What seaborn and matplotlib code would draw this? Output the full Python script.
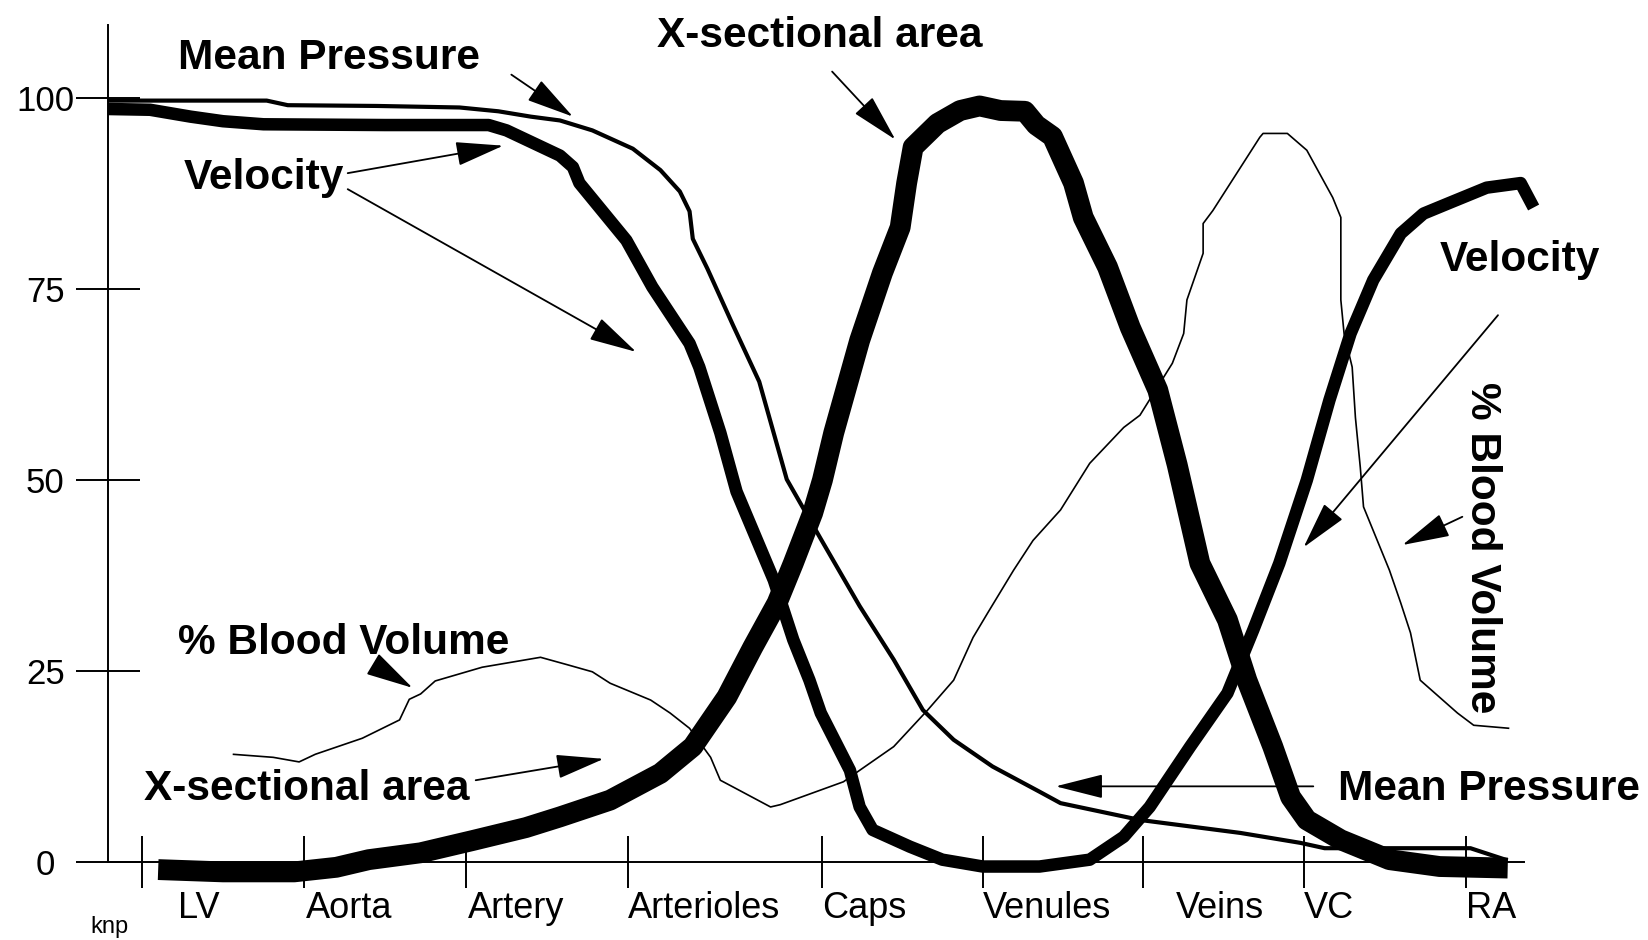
import matplotlib
matplotlib.use("Agg")
import matplotlib.pyplot as plt
import seaborn as sns

# Segment positions along the circulation (x) and % of max (y)
tick_pos = [0, 1, 2, 3, 4.2, 5.19, 6.18, 7.17, 8.17]
label_pos = [0.22, 1.01, 2.01, 3.0, 4.2, 5.19, 6.38, 7.17, 8.17]
segments = ['LV', 'Aorta', 'Artery', 'Arterioles', 'Caps', 'Venules', 'Veins', 'VC', 'RA']
y_ticks = [0, 25, 50, 75, 100]

pressure_x = [-0.21, 0.77, 0.9, 1.45, 1.96, 2.2, 2.40, 2.58, 2.78, 3.03, 3.20, 3.32, 3.38, 3.40,
              3.49, 3.65, 3.81, 3.98, 4.19, 4.43, 4.64, 4.82, 5.01, 5.25, 5.54, 5.67, 6.16, 6.78,
              7.15, 7.3, 8.2, 8.43]
pressure_y = [99.7, 99.7, 99.1, 99.0, 98.8, 98.3, 97.6, 97.1, 95.8, 93.4, 90.6, 87.8, 85.2, 81.6,
              77.7, 70.2, 62.9, 50.1, 42.3, 33.5, 26.5, 19.9, 16.0, 12.5, 9.2, 7.7, 5.5, 3.8,
              2.5, 1.8, 1.8, 0.2]

velocity_x = [-0.21, 0.05, 0.3, 0.5, 0.75, 1.5, 2.14, 2.25, 2.40, 2.58, 2.66, 2.70, 2.99, 3.15,
              3.38, 3.44, 3.57, 3.67, 3.90, 4.02, 4.12, 4.19, 4.37, 4.43, 4.51, 4.74, 4.94, 5.19,
              5.54, 5.85, 6.06, 6.22, 6.47, 6.70, 6.86, 7.02, 7.19, 7.33, 7.46, 7.60, 7.77, 7.91,
              8.07, 8.30, 8.51, 8.59]
velocity_y = [98.6, 98.5, 97.6, 97.0, 96.6, 96.5, 96.5, 95.8, 94.3, 92.5, 91.0, 88.9, 81.4, 75.3,
              67.9, 64.8, 56.2, 48.5, 36.9, 29.1, 23.8, 19.5, 12.0, 7.2, 4.2, 2.0, 0.3, -0.6,
              -0.6, 0.3, 3.3, 7.2, 15.1, 22.1, 30.4, 39.1, 50.0, 60.5, 69.2, 76.2, 82.3, 84.9,
              86.3, 88.3, 88.9, 85.7]

area_x = [0.1, 0.5, 0.94, 1.2, 1.4, 1.72, 2.04, 2.37, 2.58, 2.89, 3.20, 3.40, 3.61, 3.77, 3.92,
          4.02, 4.14, 4.20, 4.27, 4.43, 4.57, 4.68, 4.72, 4.76, 4.91, 5.05, 5.17, 5.30, 5.45,
          5.52, 5.62, 5.75, 5.81, 5.96, 6.10, 6.27, 6.39, 6.53, 6.70, 6.82, 6.98, 7.09, 7.19,
          7.40, 7.70, 8.01, 8.43]
area_y = [-1.0, -1.3, -1.3, -0.7, 0.3, 1.2, 2.8, 4.5, 5.9, 8.1, 11.6, 15.1, 21.6, 28.1, 33.9,
          39.1, 45.7, 50.0, 56.2, 68.3, 77.1, 83.1, 88.9, 93.6, 96.7, 98.4, 99.0, 98.4, 98.3,
          96.5, 95.0, 88.9, 84.4, 77.9, 70.0, 61.8, 52.0, 39.1, 31.7, 23.8, 15.1, 8.5, 5.5,
          2.9, 0.3, -0.6, -0.8]

volume_x = [0.56, 0.81, 0.97, 1.07, 1.36, 1.59, 1.65, 1.72, 1.81, 2.10, 2.46, 2.63, 2.78, 2.89,
            3.14, 3.26, 3.38, 3.51, 3.57, 3.65, 3.88, 3.94, 4.33, 4.43, 4.64, 4.85, 5.01, 5.13,
            5.22, 5.38, 5.50, 5.67, 5.85, 6.06, 6.16, 6.36, 6.43, 6.45, 6.55, 6.55, 6.61, 6.90,
            6.92, 7.07, 7.19, 7.35, 7.40, 7.40, 7.42, 7.47, 7.49, 7.52, 7.54, 7.70, 7.77, 7.83,
            7.89, 8.12, 8.22, 8.44]
volume_y = [14.1, 13.7, 13.1, 14.1, 16.2, 18.6, 21.3, 22.0, 23.7, 25.5, 26.8, 25.8, 24.9, 23.4,
            21.2, 19.5, 17.5, 13.7, 10.7, 9.8, 7.2, 7.5, 10.5, 12.0, 15.1, 19.9, 23.8, 29.4,
            32.6, 38.2, 42.1, 46.1, 52.2, 56.9, 58.5, 65.3, 69.2, 73.6, 79.7, 83.6, 85.3, 94.9,
            95.4, 95.4, 93.2, 87.0, 84.4, 73.6, 69.2, 64.8, 58.2, 51.7, 46.5, 38.2, 33.9, 30.0,
            23.8, 19.5, 17.9, 17.5]

sns.set_style("white")
plt.rcParams['font.family'] = ['Liberation Sans', 'DejaVu Sans']

fig = plt.figure(figsize=(16.48, 9.4), dpi=100)
ax = fig.add_axes([0.0655, 0.0546, 0.8592, 0.9188])

# curves
sns.lineplot(x=volume_x, y=volume_y, sort=False, estimator=None, color='black', linewidth=1.2, ax=ax)
sns.lineplot(x=pressure_x, y=pressure_y, sort=False, estimator=None, color='black', linewidth=3, ax=ax)
sns.lineplot(x=velocity_x, y=velocity_y, sort=False, estimator=None, color='black', linewidth=9, ax=ax)
sns.lineplot(x=area_x, y=area_y, sort=False, estimator=None, color='black', linewidth=15, ax=ax)
for ln in ax.lines:
    ln.set_solid_joinstyle('round')
    ln.set_solid_capstyle('butt')
    ln.set_clip_on(False)

ax.set_xlim(-0.21, 8.53)
ax.set_ylim(-3.5, 109.6)

# axes styling
for s in ['top', 'right']:
    ax.spines[s].set_visible(False)
ax.spines['bottom'].set_position(('data', 0))
ax.spines['left'].set_bounds(0, 109.6)
for s in ['left', 'bottom']:
    ax.spines[s].set_linewidth(1.4)
    ax.spines[s].set_color('black')

ax.set_yticks(y_ticks)
ax.tick_params(axis='y', left=True, direction='inout', length=46, width=1.4, pad=22,
               labelsize=25, colors='black')
for lbl in ax.get_yticklabels():
    lbl.set_ha('center')

ax.xaxis.remove_overlapping_locs = False
ax.set_xticks(tick_pos, labels=[''] * len(tick_pos))
ax.set_xticks(label_pos, labels=segments, minor=True)
ax.tick_params(axis='x', which='major', bottom=True, direction='inout', length=37, width=1.4,
               colors='black')
ax.tick_params(axis='x', which='minor', bottom=True, length=0, pad=21, labelsize=26, colors='black')
for lbl in ax.get_xticklabels(minor=True):
    lbl.set_ha('left')

# labels
bold = dict(fontsize=30.5, fontweight='bold', color='black')
ax.text(0.22, 103.9, 'Mean Pressure', ha='left', va='baseline', **bold)
ax.text(0.26, 88.1, 'Velocity', ha='left', va='baseline', **bold)
ax.text(3.18, 106.7, 'X-sectional area', ha='left', va='baseline', **bold)
ax.text(0.22, 27.2, '% Blood Volume', ha='left', va='baseline', **bold)
ax.text(0.01, 8.1, 'X-sectional area', ha='left', va='baseline', **bold)
ax.text(8.01, 77.4, 'Velocity', ha='left', va='baseline', **bold)
ax.text(7.38, 8.1, 'Mean Pressure', ha='left', va='baseline', **bold)
ax.text(8.27, 41.1, '% Blood Volume', ha='center', va='center', rotation=270, **bold)

# arrows
arrow = dict(arrowstyle='-|>,head_length=0.75,head_width=0.19', mutation_scale=40,
             lw=1.3, color='black', shrinkA=0, shrinkB=0)
arrows = [((2.28, 103.1), (2.66, 97.6)),
          ((1.27, 90.2), (2.23, 93.8)),
          ((1.27, 88.1), (3.05, 66.8)),
          ((4.26, 103.5), (4.65, 94.6)),
          ((1.45, 25.6), (1.67, 22.8)),
          ((2.06, 10.7), (2.85, 13.5)),
          ((8.37, 71.6), (7.17, 41.2)),
          ((7.23, 9.9), (5.64, 9.9)),
          ((8.15, 45.2), (7.78, 41.5))]
for tail, head in arrows:
    ax.annotate('', xy=head, xytext=tail, arrowprops=arrow, annotation_clip=False)

fig.text(0.055, 1 - 916 / 940, 'knp', ha='left', va='top', fontsize=17, color='black')

fig.savefig('out.png', dpi=100)
